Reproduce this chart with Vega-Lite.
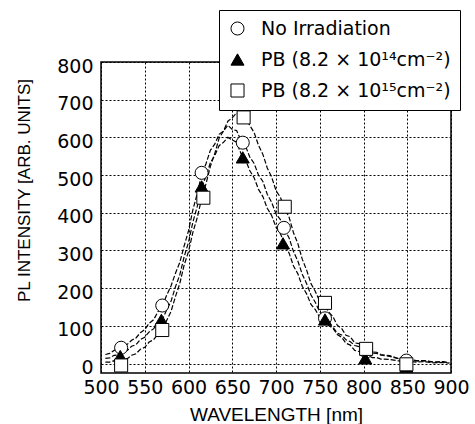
{
  "$schema": "https://vega.github.io/schema/vega-lite/v6.json",
  "width": 350,
  "height": 311,
  "autosize": {"type": "none"},
  "padding": {"left": 101, "top": 62, "right": 24, "bottom": 51},
  "background": "white",
  "config": {"view": {"stroke": "black", "strokeWidth": 1.5}, "font": "DejaVu Sans"},
  "datasets": {
    "spec": [
      {"s":"A","nm":505,"v":24},{"s":"A","nm":510,"v":27},{"s":"A","nm":515,"v":35},{"s":"A","nm":520,"v":37},{"s":"A","nm":525,"v":46},{"s":"A","nm":530,"v":51},{"s":"A","nm":535,"v":62},{"s":"A","nm":540,"v":68},{"s":"A","nm":545,"v":82},{"s":"A","nm":550,"v":90},{"s":"A","nm":555,"v":107},{"s":"A","nm":560,"v":116},{"s":"A","nm":565,"v":137},{"s":"A","nm":570,"v":152},{"s":"A","nm":575,"v":181},{"s":"A","nm":580,"v":206},{"s":"A","nm":585,"v":239},{"s":"A","nm":590,"v":268},{"s":"A","nm":595,"v":312},{"s":"A","nm":600,"v":352},{"s":"A","nm":605,"v":408},{"s":"A","nm":610,"v":451},{"s":"A","nm":615,"v":502},{"s":"A","nm":620,"v":530},{"s":"A","nm":625,"v":566},{"s":"A","nm":630,"v":582},{"s":"A","nm":635,"v":608},{"s":"A","nm":640,"v":617},{"s":"A","nm":645,"v":632},{"s":"A","nm":650,"v":621},{"s":"A","nm":655,"v":618},{"s":"A","nm":660,"v":592},{"s":"A","nm":665,"v":578},{"s":"A","nm":670,"v":548},{"s":"A","nm":675,"v":531},{"s":"A","nm":680,"v":500},{"s":"A","nm":685,"v":483},{"s":"A","nm":690,"v":449},{"s":"A","nm":695,"v":428},{"s":"A","nm":700,"v":397},{"s":"A","nm":705,"v":382},{"s":"A","nm":710,"v":355},{"s":"A","nm":715,"v":333},{"s":"A","nm":720,"v":297},{"s":"A","nm":725,"v":272},{"s":"A","nm":730,"v":237},{"s":"A","nm":735,"v":212},{"s":"A","nm":740,"v":182},{"s":"A","nm":745,"v":162},{"s":"A","nm":750,"v":137},{"s":"A","nm":755,"v":124},{"s":"A","nm":760,"v":105},{"s":"A","nm":765,"v":97},{"s":"A","nm":770,"v":81},{"s":"A","nm":775,"v":76},{"s":"A","nm":780,"v":63},{"s":"A","nm":785,"v":58},{"s":"A","nm":790,"v":48},{"s":"A","nm":795,"v":45},{"s":"A","nm":800,"v":36},{"s":"A","nm":805,"v":35},{"s":"A","nm":810,"v":28},{"s":"A","nm":815,"v":27},{"s":"A","nm":820,"v":22},{"s":"A","nm":830,"v":19},{"s":"A","nm":840,"v":13},{"s":"A","nm":850,"v":12},{"s":"A","nm":860,"v":7},{"s":"A","nm":870,"v":7},{"s":"A","nm":880,"v":4},{"s":"A","nm":890,"v":5},{"s":"A","nm":898,"v":2},
      {"s":"B","nm":505,"v":14},{"s":"B","nm":510,"v":15},{"s":"B","nm":515,"v":22},{"s":"B","nm":520,"v":23},{"s":"B","nm":525,"v":32},{"s":"B","nm":530,"v":35},{"s":"B","nm":535,"v":46},{"s":"B","nm":540,"v":50},{"s":"B","nm":545,"v":64},{"s":"B","nm":550,"v":70},{"s":"B","nm":555,"v":84},{"s":"B","nm":560,"v":92},{"s":"B","nm":565,"v":107},{"s":"B","nm":570,"v":116},{"s":"B","nm":575,"v":142},{"s":"B","nm":580,"v":165},{"s":"B","nm":585,"v":203},{"s":"B","nm":590,"v":235},{"s":"B","nm":595,"v":283},{"s":"B","nm":600,"v":322},{"s":"B","nm":605,"v":375},{"s":"B","nm":610,"v":417},{"s":"B","nm":615,"v":468},{"s":"B","nm":620,"v":497},{"s":"B","nm":625,"v":533},{"s":"B","nm":630,"v":552},{"s":"B","nm":635,"v":578},{"s":"B","nm":640,"v":587},{"s":"B","nm":645,"v":600},{"s":"B","nm":650,"v":593},{"s":"B","nm":655,"v":587},{"s":"B","nm":660,"v":557},{"s":"B","nm":665,"v":542},{"s":"B","nm":670,"v":512},{"s":"B","nm":675,"v":493},{"s":"B","nm":680,"v":462},{"s":"B","nm":685,"v":443},{"s":"B","nm":690,"v":412},{"s":"B","nm":695,"v":393},{"s":"B","nm":700,"v":362},{"s":"B","nm":705,"v":345},{"s":"B","nm":710,"v":315},{"s":"B","nm":715,"v":293},{"s":"B","nm":720,"v":259},{"s":"B","nm":725,"v":238},{"s":"B","nm":730,"v":205},{"s":"B","nm":735,"v":185},{"s":"B","nm":740,"v":157},{"s":"B","nm":745,"v":143},{"s":"B","nm":750,"v":122},{"s":"B","nm":755,"v":117},{"s":"B","nm":760,"v":101},{"s":"B","nm":765,"v":94},{"s":"B","nm":770,"v":77},{"s":"B","nm":775,"v":70},{"s":"B","nm":780,"v":54},{"s":"B","nm":785,"v":49},{"s":"B","nm":790,"v":35},{"s":"B","nm":795,"v":32},{"s":"B","nm":800,"v":22},{"s":"B","nm":805,"v":22},{"s":"B","nm":810,"v":16},{"s":"B","nm":815,"v":16},{"s":"B","nm":820,"v":12},{"s":"B","nm":830,"v":11},{"s":"B","nm":840,"v":7},{"s":"B","nm":850,"v":7},{"s":"B","nm":860,"v":4},{"s":"B","nm":870,"v":5},{"s":"B","nm":880,"v":2},{"s":"B","nm":890,"v":3},{"s":"B","nm":898,"v":1},
      {"s":"C","nm":505,"v":4},{"s":"C","nm":510,"v":4},{"s":"C","nm":515,"v":8},{"s":"C","nm":520,"v":6},{"s":"C","nm":525,"v":12},{"s":"C","nm":530,"v":13},{"s":"C","nm":535,"v":22},{"s":"C","nm":540,"v":26},{"s":"C","nm":545,"v":38},{"s":"C","nm":550,"v":43},{"s":"C","nm":555,"v":57},{"s":"C","nm":560,"v":63},{"s":"C","nm":565,"v":78},{"s":"C","nm":570,"v":88},{"s":"C","nm":575,"v":114},{"s":"C","nm":580,"v":138},{"s":"C","nm":585,"v":177},{"s":"C","nm":590,"v":212},{"s":"C","nm":595,"v":261},{"s":"C","nm":600,"v":297},{"s":"C","nm":605,"v":348},{"s":"C","nm":610,"v":387},{"s":"C","nm":615,"v":438},{"s":"C","nm":620,"v":477},{"s":"C","nm":625,"v":523},{"s":"C","nm":630,"v":557},{"s":"C","nm":635,"v":598},{"s":"C","nm":640,"v":617},{"s":"C","nm":645,"v":643},{"s":"C","nm":650,"v":652},{"s":"C","nm":655,"v":665},{"s":"C","nm":660,"v":657},{"s":"C","nm":665,"v":655},{"s":"C","nm":670,"v":632},{"s":"C","nm":675,"v":613},{"s":"C","nm":680,"v":579},{"s":"C","nm":685,"v":555},{"s":"C","nm":690,"v":519},{"s":"C","nm":695,"v":495},{"s":"C","nm":700,"v":459},{"s":"C","nm":705,"v":441},{"s":"C","nm":710,"v":412},{"s":"C","nm":715,"v":388},{"s":"C","nm":720,"v":347},{"s":"C","nm":725,"v":318},{"s":"C","nm":730,"v":277},{"s":"C","nm":735,"v":248},{"s":"C","nm":740,"v":212},{"s":"C","nm":745,"v":191},{"s":"C","nm":750,"v":165},{"s":"C","nm":755,"v":158},{"s":"C","nm":760,"v":137},{"s":"C","nm":765,"v":125},{"s":"C","nm":770,"v":102},{"s":"C","nm":775,"v":93},{"s":"C","nm":780,"v":75},{"s":"C","nm":785,"v":71},{"s":"C","nm":790,"v":55},{"s":"C","nm":795,"v":53},{"s":"C","nm":800,"v":40},{"s":"C","nm":805,"v":39},{"s":"C","nm":810,"v":31},{"s":"C","nm":815,"v":30},{"s":"C","nm":820,"v":24},{"s":"C","nm":830,"v":21},{"s":"C","nm":840,"v":13},{"s":"C","nm":850,"v":13},{"s":"C","nm":860,"v":8},{"s":"C","nm":870,"v":8},{"s":"C","nm":880,"v":4},{"s":"C","nm":890,"v":5},{"s":"C","nm":898,"v":2}
    ],
    "marks": [
      {"s":"A","nm":523,"v":42},{"s":"A","nm":570,"v":154},{"s":"A","nm":615,"v":506},{"s":"A","nm":662,"v":586},{"s":"A","nm":709,"v":360},{"s":"A","nm":756,"v":120},{"s":"A","nm":803,"v":32},{"s":"A","nm":849,"v":8},
      {"s":"B","nm":522,"v":20},{"s":"B","nm":569,"v":116},{"s":"B","nm":615,"v":470},{"s":"B","nm":662,"v":547},{"s":"B","nm":708,"v":319},{"s":"B","nm":756,"v":117},{"s":"B","nm":802,"v":14},{"s":"B","nm":849,"v":-8},
      {"s":"C","nm":523,"v":-5},{"s":"C","nm":570,"v":89},{"s":"C","nm":617,"v":440},{"s":"C","nm":663,"v":653},{"s":"C","nm":710,"v":416},{"s":"C","nm":756,"v":161},{"s":"C","nm":803,"v":39},{"s":"C","nm":849,"v":-2}
    ]
  },
  "encoding": {
    "x": {
      "field": "nm", "type": "quantitative",
      "scale": {"domain": [500, 900], "nice": false, "zero": false},
      "axis": {
        "values": [500, 550, 600, 650, 700, 750, 800, 850, 900],
        "grid": true, "gridColor": "black", "gridDash": [2, 2], "gridWidth": 1, "gridOpacity": 1,
        "domain": false, "ticks": false,
        "labelFont": "DejaVu Sans", "labelFontSize": 19, "labelColor": "black", "labelPadding": 5,
        "labelFlush": false, "labelOverlap": false,
        "title": "WAVELENGTH [nm]", "titleFont": "Liberation Sans", "titleFontSize": 19,
        "titleFontWeight": "normal", "titleColor": "black",
        "titleX": 175, "titleY": 32, "titleAlign": "center", "titleBaseline": "top"
      }
    },
    "y": {
      "field": "v", "type": "quantitative",
      "scale": {"domain": [-25, 800], "nice": false, "zero": false},
      "axis": {
        "values": [0, 100, 200, 300, 400, 500, 600, 700, 800],
        "grid": true, "gridColor": "black", "gridDash": [2, 2], "gridWidth": 1, "gridOpacity": 1,
        "domain": false, "ticks": false,
        "labelFont": "DejaVu Sans", "labelFontSize": 19, "labelColor": "black", "labelPadding": 8,
        "labelOffset": 4, "labelFlush": false, "labelOverlap": false,
        "title": "PL INTENSITY [ARB. UNITS]", "titleFont": "Liberation Sans", "titleFontSize": 17,
        "titleFontWeight": "normal", "titleColor": "black",
        "titleX": -77, "titleY": 128, "titleAngle": -90, "titleAlign": "center", "titleBaseline": "middle"
      }
    }
  },
  "layer": [
    {
      "data": {"name": "spec"},
      "mark": {"type": "line", "color": "black", "strokeDash": [5, 2], "strokeWidth": 1.2, "clip": true},
      "encoding": {"detail": {"field": "s"}}
    },
    {
      "data": {"name": "marks"},
      "mark": {"type": "point", "filled": true, "strokeWidth": 1, "size": 170, "opacity": 1, "clip": true},
      "encoding": {
        "shape": {
          "field": "s", "type": "nominal",
          "scale": {"domain": ["A", "B", "C"], "range": ["circle", "triangle-up", "square"]},
          "legend": {
            "title": null, "orient": "none", "legendX": 118, "legendY": -52,
            "strokeColor": "black", "fillColor": "white", "padding": 9, "rowPadding": 11,
            "labelFont": "DejaVu Sans", "labelFontSize": 19, "labelColor": "black", "labelOffset": 14,
            "labelLimit": 400, "symbolSize": 170, "symbolStrokeWidth": 1,
            "labelExpr": "datum.label == 'A' ? 'No Irradiation' : datum.label == 'B' ? 'PB (8.2 × 10¹⁴cm⁻²)' : 'PB (8.2 × 10¹⁵cm⁻²)'"
          }
        },
        "fill": {
          "field": "s", "type": "nominal",
          "scale": {"domain": ["A", "B", "C"], "range": ["white", "black", "white"]},
          "legend": {
            "title": null, "orient": "none", "legendX": 118, "legendY": -52,
            "strokeColor": "black", "fillColor": "white", "padding": 9, "rowPadding": 11,
            "labelFont": "DejaVu Sans", "labelFontSize": 19, "labelColor": "black", "labelOffset": 14,
            "labelLimit": 400, "symbolSize": 170, "symbolStrokeWidth": 1,
            "labelExpr": "datum.label == 'A' ? 'No Irradiation' : datum.label == 'B' ? 'PB (8.2 × 10¹⁴cm⁻²)' : 'PB (8.2 × 10¹⁵cm⁻²)'"
          }
        },
        "stroke": {
          "field": "s", "type": "nominal",
          "scale": {"domain": ["A", "B", "C"], "range": ["black", "black", "black"]},
          "legend": {
            "title": null, "orient": "none", "legendX": 118, "legendY": -52,
            "strokeColor": "black", "fillColor": "white", "padding": 9, "rowPadding": 11,
            "labelFont": "DejaVu Sans", "labelFontSize": 19, "labelColor": "black", "labelOffset": 14,
            "labelLimit": 400, "symbolSize": 170, "symbolStrokeWidth": 1,
            "labelExpr": "datum.label == 'A' ? 'No Irradiation' : datum.label == 'B' ? 'PB (8.2 × 10¹⁴cm⁻²)' : 'PB (8.2 × 10¹⁵cm⁻²)'"
          }
        }
      }
    }
  ]
}
